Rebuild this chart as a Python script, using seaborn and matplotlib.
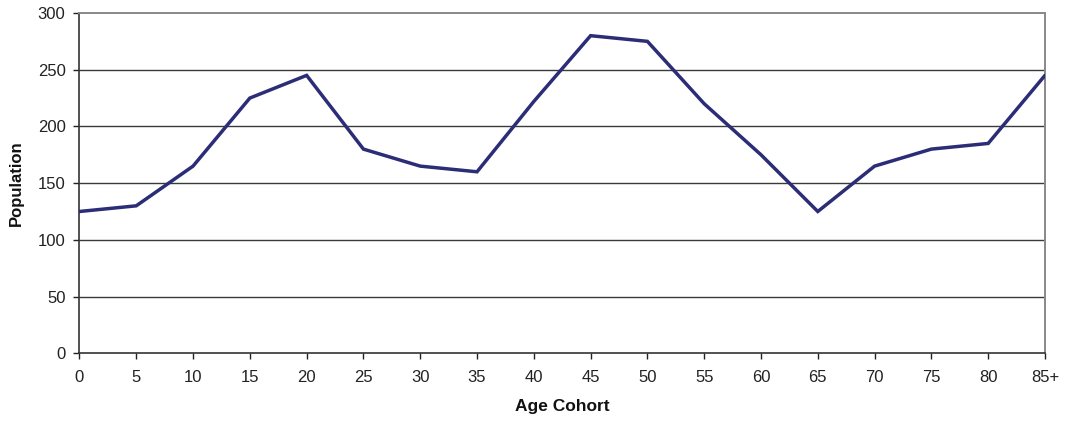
import matplotlib
matplotlib.use("Agg")
import matplotlib.pyplot as plt
import seaborn as sns
import pandas as pd

# Population by five-year age cohort
age_cohorts = ["0", "5", "10", "15", "20", "25", "30", "35", "40", "45",
               "50", "55", "60", "65", "70", "75", "80", "85+"]
population = [125, 130, 165, 225, 245, 180, 165, 160, 222, 280,
              275, 220, 175, 125, 165, 180, 185, 245]
y_ticks = [0, 50, 100, 150, 200, 250, 300]

sns.set_theme(style="white")
plt.rcParams["font.family"] = ["Liberation Sans", "DejaVu Sans"]

df = pd.DataFrame({"pos": range(len(age_cohorts)), "cohort": age_cohorts,
                   "population": population})

fig, ax = plt.subplots(figsize=(10.65, 4.26), dpi=100)
fig.subplots_adjust(left=0.0746, right=0.9812, top=0.9695, bottom=0.1707)

for v in y_ticks[1:-1]:
    ax.axhline(v, color="#3a3a3a", lw=1.0, zorder=1)

sns.lineplot(data=df, x="pos", y="population", ax=ax, color="#2b2d77",
             lw=2.5, zorder=3, solid_joinstyle="miter")

ax.set_xlim(0, len(age_cohorts) - 1)
ax.set_ylim(0, 300)
ax.set_xticks(df["pos"])
ax.set_xticklabels(age_cohorts)
ax.set_yticks(y_ticks)

ax.tick_params(axis="both", labelsize=12, colors="#222222", length=4,
               width=1, direction="out", bottom=True, left=True, pad=6)
ax.tick_params(axis="x", pad=8)

for side in ["left", "bottom"]:
    ax.spines[side].set_color("#333333")
    ax.spines[side].set_linewidth(1.2)
for side in ["top", "right"]:
    ax.spines[side].set_color("#888888")
    ax.spines[side].set_linewidth(1.4)

ax.set_xlabel("Age Cohort", fontsize=12.5, fontweight="bold", labelpad=10,
              color="#111111")
ax.set_ylabel("Population", fontsize=12, fontweight="bold", labelpad=10,
              color="#111111")

fig.savefig("out.png", dpi=100, facecolor="white")
